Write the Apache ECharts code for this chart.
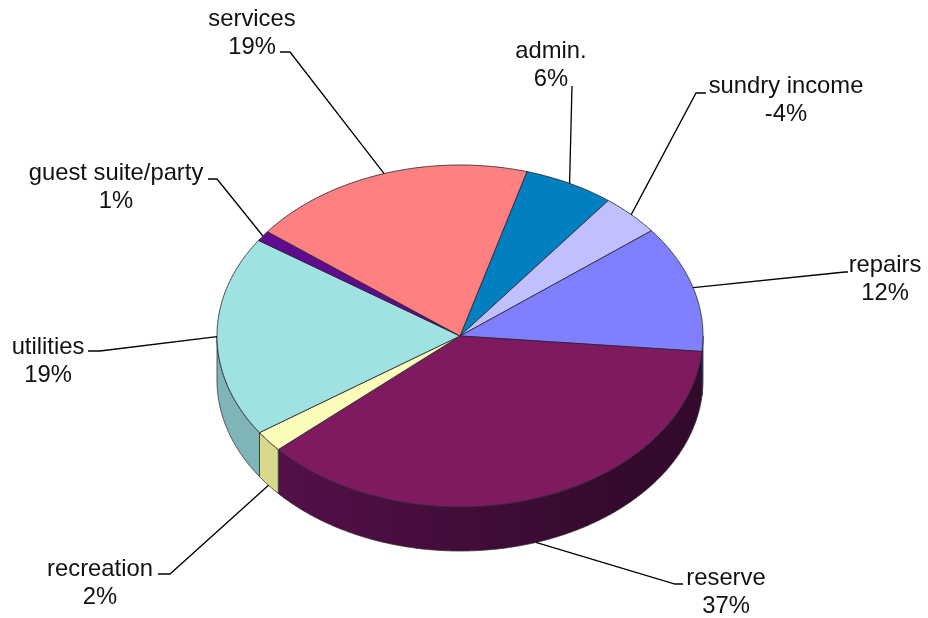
<!DOCTYPE html>
<html>
<head>
<meta charset="utf-8">
<style>
  html, body { margin: 0; padding: 0; background: #fff; }
  #chart { width: 928px; height: 618px; }
</style>
<script src="https://cdn.jsdelivr.net/npm/echarts@6/dist/echarts.min.js"></script>
</head>
<body>
<div id="chart"></div>
<script>
// Budget shares, clockwise from the first slice right of the top of the disc.
const categories = ['admin.', 'sundry income', 'repairs', 'reserve', 'recreation', 'utilities', 'guest suite/party', 'services'];
const shares = [6, -4, 12, 37, 2, 19, 1, 19];
const topColors = ['#0080c0', '#c0c0ff', '#8080ff', '#801a60', '#fcfcba', '#a0e2e2', '#600a90', '#ff8080'];
// Rim shading runs from the left colour to the right colour across the disc.
const wallLeft = ['#004060', '#606080', '#3c3c90', '#520f48', '#d9d98e', '#7fb4b8', '#300548', '#804040'];
const wallRight = ['#004060', '#606080', '#3c3c90', '#330a2b', '#d9d98e', '#7fb4b8', '#300548', '#804040'];

// Disc geometry: a tilted circle drawn as an ellipse with a visible rim.
const disc = { cx: 460, cy: 336, rx: 243, ry: 171, depth: 44, startDeg: 16 };

// Label centres, and the elbow/end of each leader line.
const labelAt = [[551, 65], [786, 100], [885, 279], [726, 592], [100, 583], [48, 361], [116, 187], [252, 33]];
const leaderBend = [[572, 86], [696, 93], [845, 272], [675, 584], [170, 574], [100, 351], [217, 179], [290, 52]];
const leaderEnd = [[572, 86], [706, 93], [848, 272], [683, 584], [158, 574], [88, 351], [208, 179], [280, 52]];

const total = shares.reduce((sum, v) => sum + Math.abs(v), 0);
const spans = [];
shares.reduce((from, v) => {
  const to = from + Math.abs(v) / total * 360;
  spans.push([from, to]);
  return to;
}, disc.startDeg);

function rimPoint(deg, drop) {
  const t = deg * Math.PI / 180;
  return [disc.cx + disc.rx * Math.sin(t), disc.cy - disc.ry * Math.cos(t) + (drop || 0)];
}

function arc(from, to, drop) {
  const pts = [];
  const steps = Math.max(2, Math.ceil(Math.abs(to - from) * 2));
  for (let i = 0; i <= steps; i++) pts.push(rimPoint(from + (to - from) * i / steps, drop));
  return pts;
}

// The rim is only visible on the front half of the disc (90 to 270 degrees from the top).
function renderWall(params) {
  const i = params.dataIndex;
  const [a, b] = spans[i];
  const pieces = [];
  [[a, b], [a - 360, b - 360], [a + 360, b + 360]].forEach(([p, q]) => {
    const from = Math.max(p, 90), to = Math.min(q, 270);
    if (to > from) pieces.push([from, to]);
  });
  const fill = new echarts.graphic.LinearGradient(
    disc.cx - disc.rx * 0.7, 0, disc.cx + disc.rx * 0.7, 0,
    [{ offset: 0, color: wallLeft[i] }, { offset: 1, color: wallRight[i] }],
    true
  );
  const children = pieces.map(([from, to]) => ({
    type: 'polygon',
    shape: { points: arc(from, to, 0).concat(arc(to, from, disc.depth)) },
    style: { fill, stroke: '#33303a', lineWidth: 0.8 }
  }));
  return { type: 'group', children };
}

function renderTop(params) {
  const [a, b] = spans[params.dataIndex];
  return {
    type: 'polygon',
    shape: { points: [[disc.cx, disc.cy]].concat(arc(a, b, 0)) },
    style: { fill: topColors[params.dataIndex], stroke: '#22222e', lineWidth: 0.8 }
  };
}

function renderLabel(params, api) {
  const i = params.dataIndex;
  const [a, b] = spans[i];
  const mid = ((a + b) / 2) % 360;
  // Leaders from slices on the front of the disc start at the bottom of the rim.
  const front = mid > 90 && mid < 260;
  const anchor = rimPoint(mid, front ? disc.depth : 0);
  return {
    type: 'group',
    children: [
      {
        type: 'polyline',
        shape: { points: [anchor, leaderBend[i], leaderEnd[i]] },
        style: { fill: null, stroke: '#000', lineWidth: 1.3 }
      },
      {
        type: 'text',
        x: labelAt[i][0],
        y: labelAt[i][1],
        style: {
          text: categories[i] + '\n' + api.value(0) + '%',
          fill: '#111',
          font: '23.8px "Liberation Sans", Arial, sans-serif',
          lineHeight: 28,
          align: 'center',
          verticalAlign: 'middle'
        }
      }
    ]
  };
}

const chart = echarts.init(document.getElementById('chart'), null, { renderer: 'canvas' });
const seriesOf = (renderItem, z) => ({
  type: 'custom',
  coordinateSystem: 'none',
  renderItem,
  z,
  silent: true,
  animation: false,
  data: shares.map((v, i) => ({ name: categories[i], value: [v] }))
});
chart.setOption({
  backgroundColor: '#fff',
  animation: false,
  series: [seriesOf(renderWall, 1), seriesOf(renderTop, 2), seriesOf(renderLabel, 3)]
});
</script>
</body>
</html>
